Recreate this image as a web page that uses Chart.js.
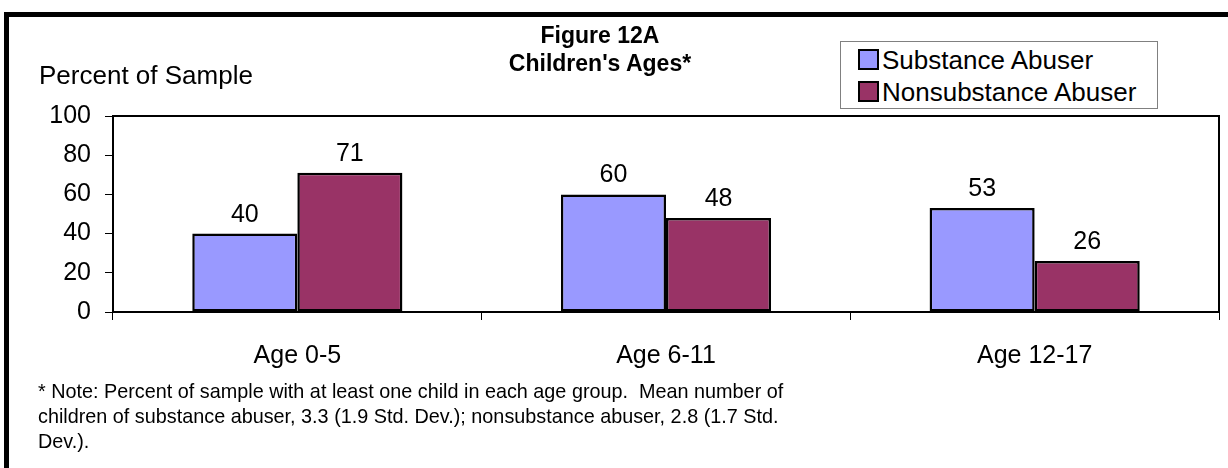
<!DOCTYPE html>
<html>
<head>
<meta charset="utf-8">
<script src="https://cdn.jsdelivr.net/npm/chart.js@4.4.1/dist/chart.umd.min.js"></script>
<style>
  html, body { margin: 0; padding: 0; background: #fff; }
  body { width: 1228px; height: 468px; position: relative; overflow: hidden;
         font-family: "Liberation Sans", Arial, sans-serif; color: #000; }
  #frame { position: absolute; left: 4px; top: 12px; width: 1300px; height: 600px;
           border-left: 5px solid #000; border-top: 5px solid #000; }
  #chart { position: absolute; left: 0; top: 0; }
  .txt { position: absolute; white-space: nowrap; }
  #title { left: 450px; width: 300px; top: 21px; text-align: center; font-weight: bold;
           font-size: 23px; line-height: 28px; }
  #ylabel { left: 39px; top: 60px; font-size: 26px; line-height: 30px; }
  #legend { position: absolute; left: 840px; top: 41px; width: 316px; height: 66px;
            border: 1px solid #808080; background: #fff; }
  .item { position: absolute; left: 17px; font-size: 26px; line-height: 30px; }
  .sw { display: inline-block; width: 17px; height: 17px; border: 2px solid #000;
        vertical-align: -1px; margin-right: 3px; }
  #note { left: 38px; top: 378px; font-size: 21px; line-height: 25px;
          transform: scaleX(0.943); transform-origin: left top; }
</style>
</head>
<body>
<div id="frame"></div>
<canvas id="chart" width="1228" height="468"></canvas>
<div class="txt" id="title">Figure 12A<br>Children's Ages*</div>
<div class="txt" id="ylabel">Percent of Sample</div>
<div id="legend">
  <div class="item" style="top:3px"><span class="sw" style="background:#9999FF"></span>Substance Abuser</div>
  <div class="item" style="top:35px"><span class="sw" style="background:#993366"></span>Nonsubstance Abuser</div>
</div>
<div class="txt" id="note">* Note: Percent of sample with at least one child in each age group.&nbsp; Mean number of<br>children of substance abuser, 3.3 (1.9 Std. Dev.); nonsubstance abuser, 2.8 (1.7 Std.<br>Dev.).</div>
<script>
const categories = ['Age 0-5', 'Age 6-11', 'Age 12-17'];
const substanceAbuser = [40, 60, 53];
const nonsubstanceAbuser = [71, 48, 26];
const yTicks = [0, 20, 40, 60, 80, 100];

const FONT = '"Liberation Sans", Arial, sans-serif';

// value labels above each bar
const barLabels = {
    id: 'barLabels',
    afterDatasetsDraw(chart) {
        const ctx = chart.ctx;
        ctx.save();
        ctx.font = '25px ' + FONT;
        ctx.fillStyle = '#000';
        ctx.textAlign = 'center';
        ctx.textBaseline = 'alphabetic';
        chart.data.datasets.forEach((ds, i) => {
            chart.getDatasetMeta(i).data.forEach((bar, j) => {
                ctx.fillText(ds.data[j], bar.x, bar.y - 12);
            });
        });
        ctx.restore();
    }
};

// box round the plot area
const plotFrame = {
    id: 'plotFrame',
    afterDraw(chart) {
        const a = chart.chartArea;
        const ctx = chart.ctx;
        ctx.save();
        ctx.strokeStyle = '#000';
        ctx.lineWidth = 2;
        ctx.strokeRect(a.left, a.top, a.right - a.left, a.bottom - a.top);
        ctx.restore();
    }
};

new Chart(document.getElementById('chart'), {
    type: 'bar',
    data: {
        labels: categories,
        datasets: [
            { label: 'Substance Abuser', data: substanceAbuser, backgroundColor: '#9999FF',
              borderColor: '#000', borderWidth: 2.5, borderSkipped: false },
            { label: 'Nonsubstance Abuser', data: nonsubstanceAbuser, backgroundColor: '#993366',
              borderColor: '#000', borderWidth: 2.5, borderSkipped: false }
        ]
    },
    options: {
        responsive: false,
        devicePixelRatio: 1,
        animation: false,
        layout: { padding: { left: 0, top: 116, right: 9, bottom: 0 } },
        datasets: { bar: { barPercentage: 1, categoryPercentage: 0.57 } },
        plugins: { legend: { display: false }, title: { display: false }, tooltip: { enabled: false } },
        scales: {
            x: {
                afterFit(scale) { scale.height = 156; },
                grid: { drawOnChartArea: false, drawTicks: true, tickLength: 8, color: '#000', lineWidth: 1 },
                border: { display: true, color: '#000', width: 2 },
                ticks: { color: '#000', padding: 21, font: { size: 25, family: FONT } }
            },
            y: {
                min: yTicks[0],
                max: yTicks[yTicks.length - 1],
                afterFit(scale) { scale.width = 113; },
                afterBuildTicks(scale) { scale.ticks = yTicks.map(v => ({ value: v })); },
                grid: { drawOnChartArea: false, drawTicks: true, tickLength: 8, color: '#000', lineWidth: 1 },
                border: { display: true, color: '#000', width: 2 },
                ticks: { color: '#000', padding: 14, font: { size: 25, family: FONT } }
            }
        }
    },
    plugins: [barLabels, plotFrame]
});
</script>
</body>
</html>
